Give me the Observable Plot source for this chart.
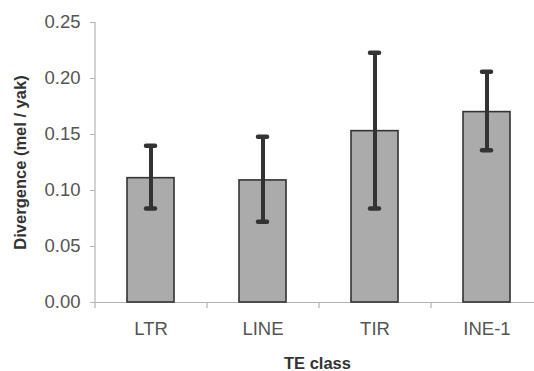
<!DOCTYPE html>
<html>
<head>
<meta charset="utf-8">
<script src="https://cdn.jsdelivr.net/npm/d3@7"></script>
<script src="https://cdn.jsdelivr.net/npm/@observablehq/plot@0.6"></script>
<style>
  html, body { margin: 0; padding: 0; background: #fff; overflow: hidden; }
  #chart svg { display: block; }
</style>
</head>
<body>
<div id="chart"></div>
<script>
// TE classes and their mean mel/yak divergence with error-bar bounds
const categories = ["LTR", "LINE", "TIR", "INE-1"];
const means = [0.111, 0.109, 0.153, 0.170];
const lows = [0.084, 0.072, 0.084, 0.136];
const highs = [0.140, 0.148, 0.223, 0.206];
const yTicks = [0, 0.05, 0.10, 0.15, 0.20, 0.25];

const rows = categories.map((c, i) => ({class: c, mean: means[i], lo: lows[i], hi: highs[i]}));

const W = 534, H = 371;
const mL = 95, mR = -9, mT = 22, mB = 69;
const step = (W - mL - mR) / categories.length;
const font = "'Liberation Sans', Arial, sans-serif";

const chart = Plot.plot({
  width: W,
  height: H,
  marginLeft: mL,
  marginRight: mR,
  marginTop: mT,
  marginBottom: mB,
  style: {fontFamily: font, background: "#fff", overflow: "visible"},
  x: {type: "band", domain: categories, paddingInner: 0.58, paddingOuter: 0.29, label: null, axis: null},
  y: {domain: [0, 0.25], label: null, axis: null},
  marks: [
    // frame lines
    Plot.ruleY([0], {stroke: "#b4b4b4", strokeWidth: 1.2}),
    Plot.ruleX([0], {x: () => categories[0], dx: -step / 2, y1: 0, y2: 0.25, stroke: "#b4b4b4", strokeWidth: 1.2}),
    // y ticks and labels
    Plot.axisY({
      ticks: yTicks, tickSize: 5, tickPadding: 10, tickFormat: d3.format(".2f"),
      stroke: "#b4b4b4", fill: "#555", fontSize: 18.5
    }),
    // x tick marks at category boundaries
    Plot.ruleX(categories, {x: d => d, dx: -step / 2, y1: 0, y2: 0, insetBottom: -6, stroke: "#b4b4b4", strokeWidth: 1.2}),
    Plot.ruleX(categories.slice(-1), {x: d => d, dx: step / 2, y1: 0, y2: 0, insetBottom: -6, stroke: "#b4b4b4", strokeWidth: 1.2}),
    // x category labels
    Plot.axisX({tickSize: 0, tickPadding: 19, fill: "#555", fontSize: 18.5}),
    // bars
    Plot.barY(rows, {x: "class", y: "mean", fill: "#ababab", stroke: "#333", strokeWidth: 1.6}),
    // error bars
    Plot.ruleX(rows, {x: "class", y1: "lo", y2: "hi", stroke: "#333", strokeWidth: 4}),
    Plot.tickY(rows, {x: "class", y: "lo", stroke: "#333", strokeWidth: 4.5, strokeLinecap: "round", inset: 19}),
    Plot.tickY(rows, {x: "class", y: "hi", stroke: "#333", strokeWidth: 4.5, strokeLinecap: "round", inset: 19}),
    // axis titles
    Plot.text(["Divergence (mel / yak)"], {
      frameAnchor: "left", dx: -75, rotate: -90, textAnchor: "middle",
      fontSize: 16.5, fontWeight: "bold", fill: "#333"
    }),
    Plot.text(["TE class"], {
      frameAnchor: "bottom", dy: 66, dx: -2, fontSize: 16.5, fontWeight: "bold", fill: "#333"
    })
  ]
});

document.getElementById("chart").appendChild(chart);
</script>
</body>
</html>
